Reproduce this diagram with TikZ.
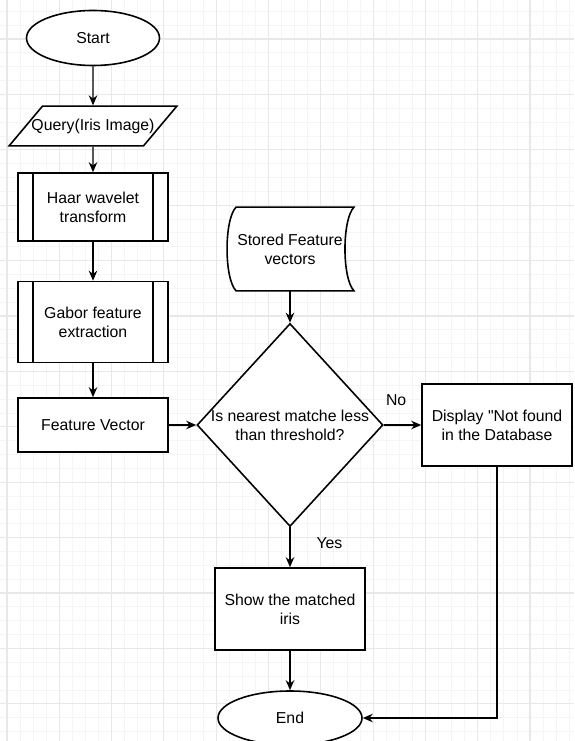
\documentclass[tikz,border=0pt]{standalone}
\usepackage{fontspec}
\setmainfont{Liberation Sans}[Ligatures=TeXOff]
\usetikzlibrary{shapes.geometric,arrows.meta,positioning,backgrounds}

\tikzset{
  base/.style={draw, fill=white, line width=0.9pt, align=center},
  startstop/.style={base, ellipse, minimum width=2.66cm, minimum height=1.1cm},
  io/.style={base, trapezium, trapezium left angle=50, trapezium right angle=130,
    inner xsep=-0.22cm, inner ysep=0.25cm},
  process/.style={base, rectangle, minimum width=3cm},
  predef/.style={process, path picture={
    \draw[line width=0.9pt]
      ([xshift=0.3cm]path picture bounding box.north west) -- ([xshift=0.3cm]path picture bounding box.south west)
      ([xshift=-0.3cm]path picture bounding box.north east) -- ([xshift=-0.3cm]path picture bounding box.south east);}},
  decision/.style={base, diamond, minimum width=3.72cm, minimum height=4.06cm, inner sep=0pt},
  store/.style={align=center, minimum width=2.32cm, minimum height=1.66cm},
  line/.style={draw, line width=0.8pt, -{Stealth[length=2mm, width=1.7mm]}},
  gridminor/.style={draw=gray!8, line width=0.5pt},
  gridmajor/.style={draw=gray!18, line width=0.6pt}
}

\begin{document}
\begin{tikzpicture}[node distance=2cm, on grid, font=\fontsize{9}{10.8}\selectfont]
\useasboundingbox (0,0) rectangle (11.48,-14.82);

\node[startstop] (start) at (1.86,-0.76) {Start};
\node[io] (query) [below=1.76cm of start] {Query(Iris Image)};
\node[predef, minimum height=1.36cm] (haar) [below=1.62cm of query] {Haar wavelet\\transform};
\node[predef, minimum height=1.62cm] (gabor) [below=2.3cm of haar] {Gabor feature\\extraction};
\node[process, minimum height=1.08cm] (fvec) [below=2.06cm of gabor] {Feature Vector};
\node[decision, label={[align=center]center:Is nearest matche less\\than threshold?}] (match) [right=3.94cm of fvec] {};
\node[store] (stored) [above=3.52cm of match] {Stored Feature\\vectors};
\node[process, minimum height=1.64cm] (notfound) [right=4.14cm of match] {Display "Not found\\in the Database};
\node[process, minimum height=1.64cm] (show) [below=3.68cm of match] {Show the matched\\iris};
\node[startstop, minimum width=2.88cm, minimum height=1.08cm] (end) [below=2.18cm of show] {End};

\path[line] (start) -- (query);
\path[line] (query) -- (haar);
\path[line] (haar) -- (gabor);
\path[line] (gabor) -- (fvec);
\path[line] (fvec) -- (match);
\path[line] (stored) -- (match);
\path[line] (match) -- node[above=0.25cm, pos=0.33] {No} (notfound);
\path[line] (match) -- node[right=0.4cm, pos=0.4] {Yes} (show);
\path[line] (show) -- (end);
\path[line] (notfound) |- (end);

% grid and stored data outline behind the nodes
\begin{scope}[on background layer]
\foreach \k in {0,...,43}
  \draw[gridminor] ({0.14+0.2615*\k},0) -- ++(0,-14.82);
\foreach \k in {0,...,52}
  \draw[gridminor] (0,{-0.226-0.277*\k}) -- ++(11.48,0);
\foreach \k in {0,...,10}
  \draw[gridmajor] ({0.14+1.046*\k},0) -- ++(0,-14.82);
\foreach \k in {0,...,12}
  \draw[gridmajor] (0,{-0.78-1.108*\k}) -- ++(11.48,0);
\draw[line width=0.9pt, fill=white] ([xshift=1mm]stored.north east) -- ([xshift=1mm]stored.north west)
  .. controls +(-0.24,-0.25) and +(-0.24,0.25) .. ([xshift=1mm]stored.south west)
  -- ([xshift=1mm]stored.south east)
  .. controls +(-0.24,0.25) and +(-0.24,-0.25) .. cycle;
\end{scope}
\end{tikzpicture}
\end{document}
